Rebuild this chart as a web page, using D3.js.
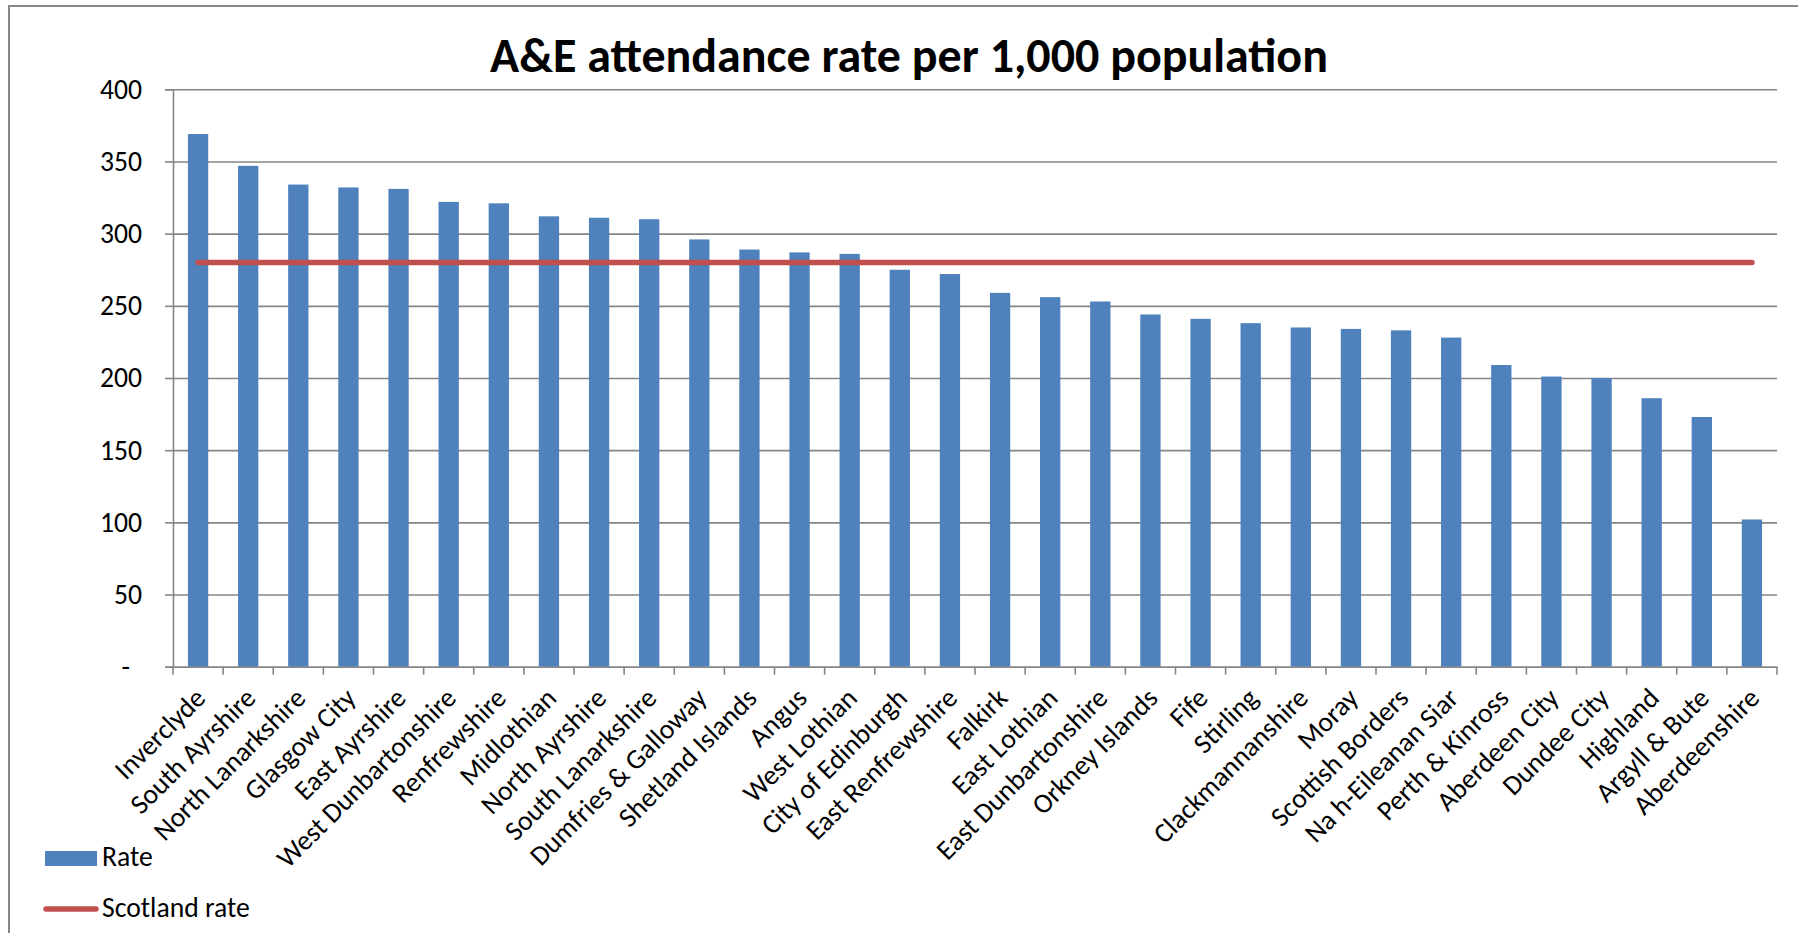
<!DOCTYPE html>
<html>
<head>
<meta charset="utf-8">
<script src="https://cdn.jsdelivr.net/npm/d3@7"></script>
<style>
  body { margin: 0; background: #fff; }
  text { font-family: Carlito, Calibri, Lato, "Open Sans", sans-serif; fill: #000; }
</style>
</head>
<body>
<svg id="chart" width="1798" height="933"></svg>
<script>
// chart data
const councils = [
  "Inverclyde", "South Ayrshire", "North Lanarkshire", "Glasgow City", "East Ayrshire",
  "West Dunbartonshire", "Renfrewshire", "Midlothian", "North Ayrshire", "South Lanarkshire",
  "Dumfries & Galloway", "Shetland Islands", "Angus", "West Lothian", "City of Edinburgh",
  "East Renfrewshire", "Falkirk", "East Lothian", "East Dunbartonshire", "Orkney Islands",
  "Fife", "Stirling", "Clackmannanshire", "Moray", "Scottish Borders",
  "Na h-Eileanan Siar", "Perth & Kinross", "Aberdeen City", "Dundee City", "Highland",
  "Argyll & Bute", "Aberdeenshire"
];
const rates = [
  369, 347, 334, 332, 331,
  322, 321, 312, 311, 310,
  296, 289, 287, 286, 275,
  272, 259, 256, 253, 244,
  241, 238, 235, 234, 233,
  228, 209, 201, 200, 186,
  173, 102
];
const scotlandRate = 280;
const yTicks = [0, 50, 100, 150, 200, 250, 300, 350, 400];
const legendLabels = ["Rate", "Scotland rate"];
const chartTitle = "A&E attendance rate per 1,000 population";

const barColor = "#4F81BD";
const lineColor = "#C0504D";
const gridColor = "#868686";

const svg = d3.select("#chart");

// outer chart border (runs off the right and bottom edges)
svg.append("rect")
  .attr("x", 9).attr("y", 6)
  .attr("width", 1830).attr("height", 1000)
  .attr("fill", "#fff")
  .attr("stroke", "#878787")
  .attr("stroke-width", 2);

const plot = { left: 173, right: 1777, top: 89.3, bottom: 666.7 };

const x = d3.scaleBand()
  .domain(councils)
  .range([plot.left, plot.right])
  .paddingInner(0.595)
  .paddingOuter(0.2975);

const y = d3.scaleLinear()
  .domain([0, 400])
  .range([plot.bottom, plot.top]);

// match a font size so a string comes out at the wanted width
function fitFont(sel, target) {
  const len = sel.node().getComputedTextLength();
  const fs = parseFloat(sel.attr("font-size"));
  sel.attr("font-size", fs * target / len);
  return fs * target / len;
}

const probe = svg.append("text").attr("font-size", 24).text("West Dunbartonshire");
const labelSize = fitFont(probe, 240);
probe.remove();

// gridlines
svg.append("g")
  .attr("transform", `translate(${plot.left},0)`)
  .call(d3.axisLeft(y).tickValues(yTicks).tickSize(-(plot.right - plot.left)).tickFormat(""))
  .call(g => g.select(".domain").remove())
  .call(g => g.selectAll("line").attr("stroke", gridColor).attr("stroke-width", 1.6));

// bars
svg.append("g")
  .selectAll("rect")
  .data(councils)
  .join("rect")
  .attr("x", d => x(d))
  .attr("width", x.bandwidth())
  .attr("y", (d, i) => y(rates[i]))
  .attr("height", (d, i) => y(0) - y(rates[i]))
  .attr("fill", barColor);

// y axis
svg.append("g")
  .attr("transform", `translate(${plot.left},0)`)
  .call(d3.axisLeft(y).tickValues(yTicks).tickSize(8).tickPadding(23)
    .tickFormat(d => d === 0 ? "-" : d))
  .call(g => g.selectAll("line, path").attr("stroke", gridColor).attr("stroke-width", 1.6))
  .call(g => g.selectAll("text")
    .attr("font-size", labelSize)
    .attr("font-family", null)
    .attr("dx", d => d === 0 ? -12 : 0));

// x axis
const xAxis = svg.append("g")
  .attr("transform", `translate(0,${plot.bottom})`)
  .call(d3.axisBottom(x).tickSize(0).tickSizeOuter(0))
  .call(g => g.select(".domain").attr("stroke", gridColor).attr("stroke-width", 1.6));

xAxis.selectAll("text")
  .attr("font-size", labelSize)
  .attr("font-family", null)
  .attr("x", 0).attr("y", 0).attr("dy", 0)
  .attr("text-anchor", "end")
  .attr("transform", "translate(9,33) rotate(-45)");

// ticks on category boundaries
xAxis.append("g")
  .selectAll("line")
  .data(d3.range(councils.length + 1))
  .join("line")
  .attr("x1", i => plot.left + i * x.step())
  .attr("x2", i => plot.left + i * x.step())
  .attr("y1", 0).attr("y2", 8)
  .attr("stroke", gridColor)
  .attr("stroke-width", 1.6);

// Scotland rate line
svg.append("path")
  .datum(councils)
  .attr("d", d3.line()
    .x(d => x(d) + x.bandwidth() / 2)
    .y(() => y(scotlandRate)))
  .attr("fill", "none")
  .attr("stroke", lineColor)
  .attr("stroke-width", 5.5)
  .attr("stroke-linecap", "round");

// title
const title = svg.append("text")
  .attr("x", 909)
  .attr("y", 72)
  .attr("text-anchor", "middle")
  .attr("font-weight", "bold")
  .attr("font-size", 44)
  .text(chartTitle);
fitFont(title, 838);

// legend
const legend = svg.append("g");
legend.append("rect")
  .attr("x", 45).attr("y", 851)
  .attr("width", 52).attr("height", 15)
  .attr("fill", barColor);
legend.append("line")
  .attr("x1", 46).attr("x2", 96)
  .attr("y1", 909).attr("y2", 909)
  .attr("stroke", lineColor)
  .attr("stroke-width", 5.5)
  .attr("stroke-linecap", "round");
legend.selectAll("text")
  .data(legendLabels)
  .join("text")
  .attr("x", 102)
  .attr("y", (d, i) => [866, 917][i])
  .attr("font-size", labelSize)
  .text(d => d);
</script>
</body>
</html>
